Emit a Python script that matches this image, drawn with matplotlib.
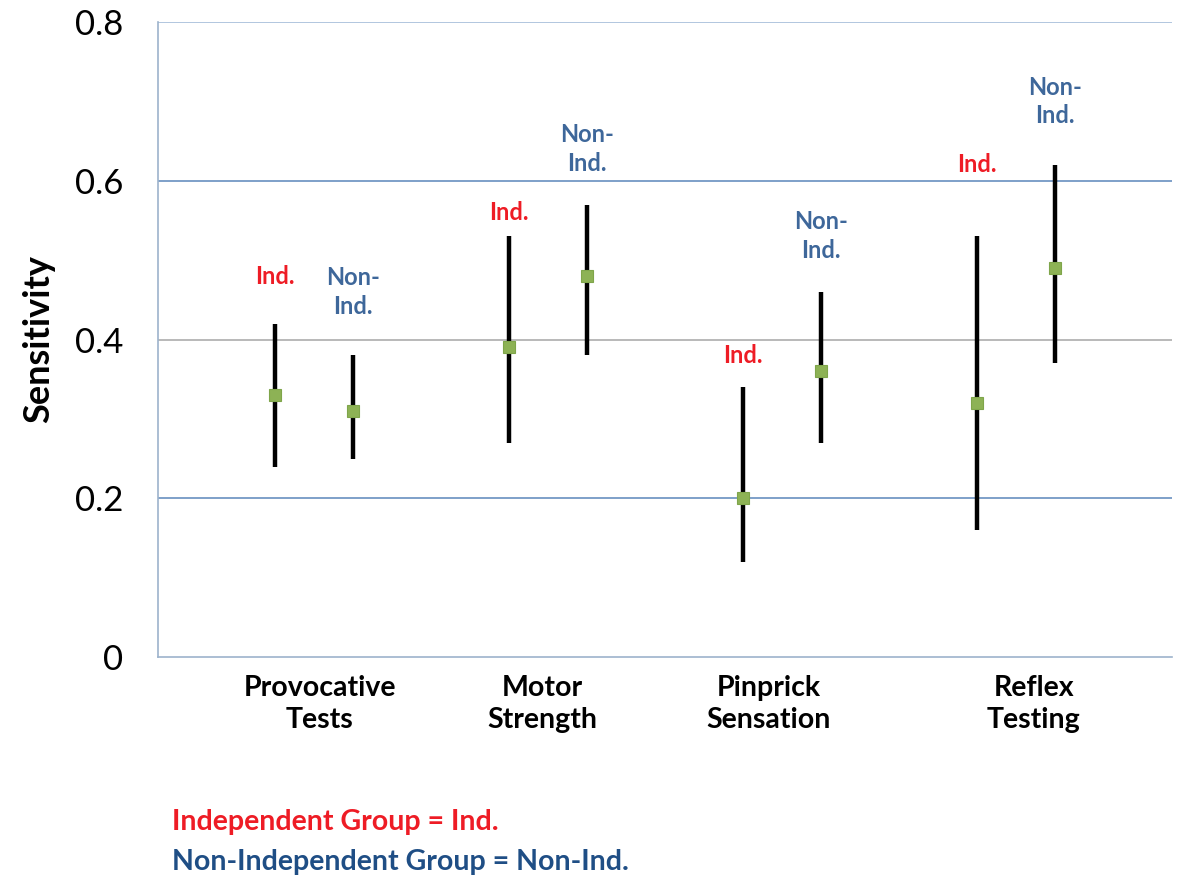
import matplotlib
matplotlib.use("Agg")
import matplotlib.pyplot as plt

# ---- data ----
categories = ["Provocative\nTests", "Motor\nStrength", "Pinprick\nSensation", "Reflex\nTesting"]
ind_mean = [0.33, 0.39, 0.20, 0.32]
ind_low = [0.24, 0.27, 0.12, 0.16]
ind_high = [0.42, 0.53, 0.34, 0.53]
non_mean = [0.31, 0.48, 0.36, 0.49]
non_low = [0.25, 0.38, 0.27, 0.37]
non_high = [0.38, 0.57, 0.46, 0.62]
ind_label_y = [0.48, 0.56, 0.38, 0.62]
non_label_y = [0.46, 0.64, 0.53, 0.70]
y_ticks = [0, 0.2, 0.4, 0.6, 0.8]
y_tick_labels = ["0", "0.2", "0.4", "0.6", "0.8"]

plt.rcParams['font.family'] = ['Lato', 'DejaVu Sans']

fig = plt.figure(figsize=(12, 8.85), dpi=100)
ax = fig.add_axes([0.1317, 0.2576, 0.845, 0.7175])

RED = "#EE1C25"
BLUE = "#3E679A"
GREEN = "#8DB255"

n = len(categories)
centers = [2 + 3 * i for i in range(n)]
x_ind = [c - 0.5 for c in centers]
x_non = [c + 0.5 for c in centers]

# gridlines
grid_colors = {0.2: "#5B86BA", 0.4: "#A6A6A6", 0.6: "#5B86BA", 0.8: "#9DB6D6"}
for yv, col in grid_colors.items():
    ax.axhline(yv, color=col, lw=1.1, zorder=1)

for xs, m, lo, hi in [(x_ind, ind_mean, ind_low, ind_high), (x_non, non_mean, non_low, non_high)]:
    ax.vlines(xs, lo, hi, color="black", lw=3.2, zorder=2)
    ax.plot(xs, m, ls="none", marker="s", ms=8.5, mfc=GREEN, mec="#7FA54A", mew=0.8, zorder=3)

for i in range(n):
    ax.text(x_ind[i], ind_label_y[i], "Ind.", color=RED, fontsize=17, fontweight="bold",
            ha="center", va="center")
    ax.text(x_non[i], non_label_y[i], "Non-\nInd.", color=BLUE, fontsize=17, fontweight="bold",
            ha="center", va="center", linespacing=1.3)

ax.set_xlim(0, 13)
ax.set_ylim(0, 0.8)
ax.set_yticks(y_ticks)
ax.set_yticklabels(y_tick_labels, fontsize=25)
ax.tick_params(axis="y", length=0, pad=25)
label_offsets = [0.07, -0.07, -0.17, 0.23]
ax.set_xticks([c + o for c, o in zip(centers, label_offsets)])
ax.set_xticklabels(categories, fontsize=20.5, fontweight="bold", linespacing=1.28)
ax.tick_params(axis="x", length=0, pad=13)

for s in ["top", "right"]:
    ax.spines[s].set_visible(False)
for s in ["left", "bottom"]:
    ax.spines[s].set_color("#9DB3CC")
    ax.spines[s].set_linewidth(1.2)

ax.set_ylabel("Sensitivity", fontsize=26, fontweight="bold", labelpad=14)

fig.text(172 / 1200, 1 - 822 / 885, "Independent Group = Ind.", color=RED, fontsize=20.5,
         fontweight="bold", ha="left", va="center")
fig.text(172 / 1200, 1 - 862 / 885, "Non-Independent Group = Non-Ind.", color="#1F4E85",
         fontsize=20.5, fontweight="bold", ha="left", va="center")

fig.savefig("out.png", dpi=100)
